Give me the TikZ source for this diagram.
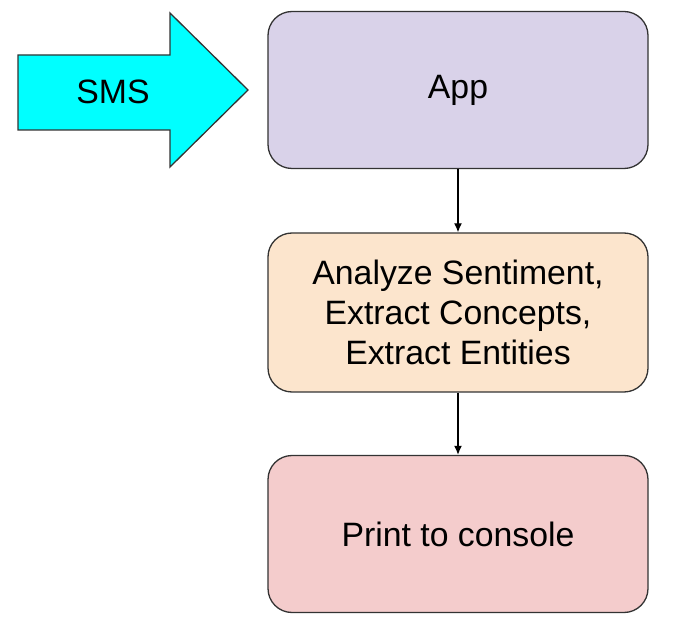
\documentclass[tikz,border=0pt]{standalone}
\usepackage{fontspec}
\setmainfont{Liberation Sans}
\usetikzlibrary{arrows.meta,positioning}
\definecolor{smLavender}{HTML}{D9D2E9}
\definecolor{smPeach}{HTML}{FCE5CD}
\definecolor{smRose}{HTML}{F4CCCC}
\definecolor{smCyan}{HTML}{00FFFF}
\definecolor{smEdge}{HTML}{333333}
\tikzset{
    smBox/.style={
        draw=smEdge,
        rounded corners=24pt,
        minimum width=380pt,
        minimum height=157pt,
        align=center,
        line width=1.3pt,
        font=\fontsize{33.8}{40}\selectfont
    },
    smArrow/.style={-{Latex[length=9pt,width=8pt]},line width=1.3pt,draw=black}
}
\begin{document}
\begin{tikzpicture}[x=1pt,y=-1pt]
    \useasboundingbox (0,0) rectangle (678,628);

    \node[smBox,fill=smLavender] (app) at (458,90) {App};
    \node[smBox,fill=smPeach,minimum height=159pt] (nlu) at (458,312.5)
        {Analyze Sentiment,\\Extract Concepts,\\Extract Entities};
    \node[smBox,fill=smRose] (out) at (458,534) {Print to console};

    \draw[smArrow] (app) -- (nlu);
    \draw[smArrow] (nlu) -- (out);

    % incoming SMS
    \draw[draw=smEdge,fill=smCyan,line width=1.3pt]
        (18,55) -- (170,55) -- (170,13) -- (248,90) -- (170,167)
        -- (170,130) -- (18,130) -- cycle;
    \node[font=\fontsize{33.8}{40}\selectfont] (sms) at (113,92) {SMS};
\end{tikzpicture}
\end{document}
